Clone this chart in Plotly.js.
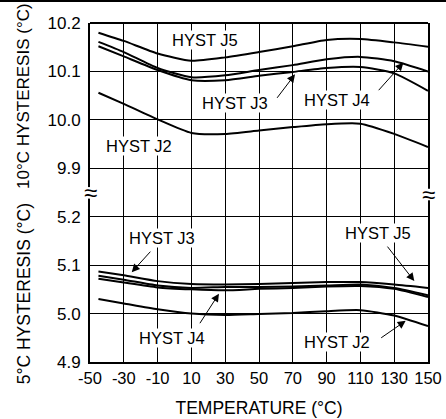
<!DOCTYPE html>
<html>
<head>
<meta charset="utf-8">
<script src="https://cdn.plot.ly/plotly-3.0.1.min.js"></script>
<style>html,body{margin:0;padding:0;background:#fff;}#chart{width:446px;height:419px;}</style>
</head>
<body>
<div id="chart"></div>
<script>
// Temperatures (°C)
const temps = [-45, -30, -10, 10, 30, 50, 70, 90, 110, 130, 150];

// 10°C hysteresis curves
const hyst10_J5 = [10.180, 10.163, 10.137, 10.122, 10.129, 10.140, 10.152, 10.165, 10.167, 10.160, 10.151];
const hyst10_J4 = [10.161, 10.140, 10.107, 10.088, 10.092, 10.103, 10.113, 10.125, 10.130, 10.121, 10.100];
const hyst10_J3 = [10.152, 10.131, 10.103, 10.082, 10.082, 10.091, 10.099, 10.107, 10.109, 10.096, 10.060];
const hyst10_J2 = [10.056, 10.033, 10.001, 9.973, 9.971, 9.978, 9.985, 9.991, 9.992, 9.971, 9.944];

// 5°C hysteresis curves
const hyst5_J5 = [5.087, 5.079, 5.067, 5.061, 5.060, 5.061, 5.063, 5.065, 5.065, 5.060, 5.053];
const hyst5_J3 = [5.078, 5.070, 5.058, 5.053, 5.055, 5.055, 5.056, 5.058, 5.060, 5.053, 5.038];
const hyst5_J4 = [5.072, 5.064, 5.054, 5.050, 5.048, 5.051, 5.053, 5.056, 5.057, 5.051, 5.034];
const hyst5_J2 = [5.030, 5.021, 5.009, 5.000, 4.997, 4.999, 5.001, 5.005, 5.007, 4.996, 4.974];

// Tick labels
const xTicks = [-50, -30, -10, 10, 30, 50, 70, 90, 110, 130, 150];
const xLabels = ['-50', '-30', '-10', '10', '30', '50', '70', '90', '110', '130', '150'];
const yTopTicks = [9.9, 10.0, 10.1, 10.2];
const yTopLabels = ['9.9', '10.0', '10.1', '10.2'];
const yBotTicks = [4.9, 5.0, 5.1, 5.2];
const yBotLabels = ['4.9', '5.0', '5.1', '5.2'];

const FONT = 'Liberation Sans, Arial, Helvetica, sans-serif';
const lineStyle = {color: '#000', width: 2, shape: 'spline', smoothing: 0.6};

function tr(y, axis) {
  return {x: temps, y: y, type: 'scatter', mode: 'lines', line: lineStyle,
          xaxis: 'x', yaxis: axis, hoverinfo: 'skip', showlegend: false};
}

const data = [
  tr(hyst10_J5, 'y'), tr(hyst10_J4, 'y'), tr(hyst10_J3, 'y'), tr(hyst10_J2, 'y'),
  tr(hyst5_J5, 'y2'), tr(hyst5_J3, 'y2'), tr(hyst5_J4, 'y2'), tr(hyst5_J2, 'y2')
];

function label(text, x, y, yref) {
  return {text: text, x: x, y: y, xref: 'x', yref: yref, showarrow: false,
          xanchor: 'center', yanchor: 'middle',
          bgcolor: '#fff', borderpad: 0, font: {family: FONT, size: 16.5, color: '#000'}};
}
function arrow(x, y, yref, ax, ay) {
  return {text: '', x: x, y: y, xref: 'x', yref: yref, showarrow: true,
          arrowhead: 2, arrowsize: 1.6, arrowwidth: 1, arrowcolor: '#000', ax: ax, ay: ay, standoff: 0};
}

const annotations = [
  label('HYST J5', 18, 10.165, 'y'),
  label('HYST J3', 35.8, 10.034, 'y'),
  label('HYST J4', 96.2, 10.040, 'y'),
  label('HYST J2', -21, 9.946, 'y'),
  label('HYST J3', -7.6, 5.157, 'y2'),
  label('HYST J4', -1.2, 4.950, 'y2'),
  label('HYST J5', 120.6, 5.166, 'y2'),
  label('HYST J2', 96, 4.942, 'y2'),
  arrow(71.3, 10.094, 'y', -19, 25),
  arrow(135.4, 10.118, 'y', -26, 29),
  arrow(-25.3, 5.0855, 'y2', 20, -22),
  arrow(26.3, 5.041, 'y2', -20, 31),
  arrow(141.9, 5.067, 'y2', -28, -36),
  arrow(136.8, 4.985, 'y2', -26, 18),
  {text: '5°C HYSTERESIS (°C)', xref: 'paper', yref: 'paper', x: -0.195, y: 0.2,
   xanchor: 'center', yanchor: 'middle',
   textangle: -90, showarrow: false, font: {family: FONT, size: 17.5, color: '#000'}},
  {text: '10°C HYSTERESIS (°C)', xref: 'paper', yref: 'paper', x: -0.195, y: 0.505,
   xanchor: 'center', yanchor: 'bottom', textangle: -90, showarrow: false,
   font: {family: FONT, size: 17, color: '#000'}},
  {text: '≈', xref: 'paper', yref: 'paper', x: 0, y: 0.5, xanchor: 'center', yanchor: 'middle',
   showarrow: false, font: {family: FONT, size: 24, color: '#000'}},
  {text: '≈', xref: 'paper', yref: 'paper', x: 1, y: 0.495, xanchor: 'center', yanchor: 'middle',
   showarrow: false, font: {family: FONT, size: 24, color: '#000'}}
];

const shapes = [
  {type: 'line', xref: 'paper', yref: 'paper', x0: 0, x1: 1, y0: 1, y1: 1, line: {color: '#000', width: 2}},
  {type: 'line', xref: 'paper', yref: 'paper', x0: -0.27, x1: 1.06, y0: 1.0649, y1: 1.0649, line: {color: '#000', width: 2}},
  {type: 'rect', xref: 'paper', yref: 'paper', x0: -0.012, x1: 0.012, y0: 0.482, y1: 0.516, fillcolor: '#fff', line: {width: 0}, layer: 'above'},
  {type: 'rect', xref: 'paper', yref: 'paper', x0: 0.988, x1: 1.012, y0: 0.477, y1: 0.511, fillcolor: '#fff', line: {width: 0}, layer: 'above'}
];

const layout = {
  width: 446, height: 419,
  margin: {l: 90, r: 18, t: 23, b: 57, pad: 0},
  paper_bgcolor: '#fff', plot_bgcolor: '#fff',
  font: {family: FONT, size: 16, color: '#000'},
  showlegend: false,
  xaxis: {
    anchor: 'y2', range: [-50, 150], tickvals: xTicks, ticktext: xLabels, ticks: '',
    showgrid: true, gridcolor: '#000', gridwidth: 1, zeroline: false,
    showline: true, linecolor: '#000', linewidth: 2,
    tickfont: {family: FONT, size: 16.5, color: '#000'},
    title: {text: 'TEMPERATURE (°C)', font: {family: FONT, size: 17.5, color: '#000'}, standoff: 16}
  },
  yaxis: {
    domain: [0.5, 1], range: [9.85, 10.2], tickvals: yTopTicks, ticktext: yTopLabels, ticks: '',
    showgrid: true, gridcolor: '#000', gridwidth: 1, zeroline: false,
    showline: true, mirror: true, linecolor: '#000', linewidth: 2,
    tickfont: {family: FONT, size: 17, color: '#000'}, ticklabelstandoff: 4
  },
  yaxis2: {
    domain: [0, 0.5], range: [4.9, 5.25], tickvals: yBotTicks, ticktext: yBotLabels, ticks: '',
    showgrid: true, gridcolor: '#000', gridwidth: 1, zeroline: false,
    showline: true, mirror: true, linecolor: '#000', linewidth: 2,
    tickfont: {family: FONT, size: 17, color: '#000'}, ticklabelstandoff: 4
  },
  annotations: annotations,
  shapes: shapes
};

Plotly.newPlot('chart', data, layout, {staticPlot: true, displayModeBar: false});
</script>
</body>
</html>
